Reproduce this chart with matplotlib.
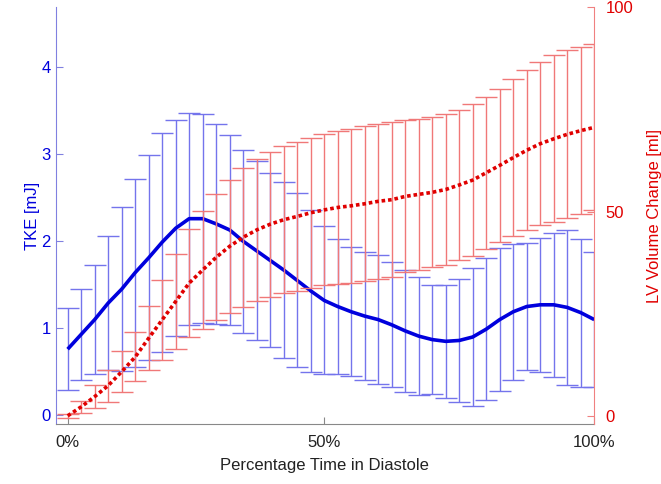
import matplotlib
matplotlib.use('Agg')
import matplotlib.pyplot as plt

plt.rcParams['font.family'] = ['Liberation Sans', 'DejaVu Sans']

# frame index across diastole (40 samples, 0% .. 100%)
frames = list(range(40))
xtick_pos = [0, 19, 39]
xtick_labels = ['0%', '50%', '100%']

tke_mean = [0.76, 0.93, 1.10, 1.29, 1.45, 1.64, 1.81, 1.99, 2.15, 2.26,
            2.26, 2.20, 2.13, 2.00, 1.89, 1.78, 1.67, 1.55, 1.43, 1.32,
            1.25, 1.19, 1.14, 1.10, 1.04, 0.97, 0.91, 0.87, 0.85, 0.86,
            0.90, 0.99, 1.10, 1.19, 1.25, 1.27, 1.27, 1.24, 1.18, 1.10]
tke_sd = [0.47, 0.52, 0.63, 0.77, 0.94, 1.08, 1.18, 1.26, 1.24, 1.22,
          1.20, 1.15, 1.09, 1.05, 1.03, 1.00, 1.01, 1.00, 0.93, 0.85,
          0.78, 0.74, 0.74, 0.74, 0.72, 0.70, 0.68, 0.63, 0.65, 0.71,
          0.79, 0.82, 0.82, 0.78, 0.73, 0.77, 0.83, 0.89, 0.85, 0.78]

vol_mean = [0.0, 2.2, 4.7, 7.4, 10.8, 14.4, 19.0, 23.5, 28.0, 32.5,
            35.7, 38.8, 41.5, 43.7, 45.5, 46.9, 48.0, 48.8, 49.7, 50.4,
            51.0, 51.4, 51.9, 52.5, 52.9, 53.7, 54.2, 54.7, 55.4, 56.5,
            57.7, 59.5, 61.3, 63.2, 65.0, 66.6, 67.8, 68.9, 69.8, 70.6]
vol_sd = [0.5, 1.45, 2.75, 3.9, 5.0, 6.0, 7.85, 9.85, 11.65, 13.2,
          14.55, 15.4, 16.3, 16.95, 17.35, 17.75, 17.95, 18.3, 18.4, 18.5,
          18.7, 18.9, 19.0, 19.0, 18.95, 18.6, 18.55, 18.35, 18.4, 18.3,
          18.5, 18.6, 18.75, 19.15, 19.6, 20.0, 20.4, 20.6, 20.5, 20.3]

blue = '#0000dd'
red = '#e00000'

fig = plt.figure(figsize=(6.61, 4.84), dpi=100)
ax = fig.add_axes([0.084, 0.124, 0.815, 0.861])
ax2 = ax.twinx()

ax.errorbar(frames, tke_mean, yerr=tke_sd, fmt='none', ecolor='#7474ec',
            elinewidth=1.0, capsize=8, capthick=1.0)
ax.plot(frames, tke_mean, color=blue, lw=2.6, solid_capstyle='butt')

ax2.errorbar(frames, vol_mean, yerr=vol_sd, fmt='none', ecolor='#f07878',
             elinewidth=1.0, capsize=8, capthick=1.0)
ax2.plot(frames, vol_mean, color=red, lw=2.6, linestyle=(0, (1, 0.8)))

ax.set_xlim(-0.9, 39)
ax.set_ylim(-0.1, 4.69)
ax2.set_ylim(-2.0, 100)
ax.set_xticks(xtick_pos)
ax.set_xticklabels(xtick_labels)
ax.set_yticks([0, 1, 2, 3, 4])
ax2.set_yticks([0, 50, 100])

for a in (ax, ax2):
    a.spines['top'].set_visible(False)
ax.spines['left'].set_color('#8080e0')
ax.spines['right'].set_visible(False)
ax2.spines['left'].set_visible(False)
ax2.spines['right'].set_color('#f08080')
ax.spines['bottom'].set_color('#888888')
ax2.spines['bottom'].set_visible(False)

ax.tick_params(axis='y', direction='in', colors=blue, labelsize=12, length=5, color='#8080e0')
ax.tick_params(axis='x', direction='in', labelsize=12, length=5, color='#888888', labelcolor='#222222', pad=8)
ax2.tick_params(axis='y', direction='in', colors=red, labelsize=12, length=5, color='#f08080', pad=8)

ax.set_xlabel('Percentage Time in Diastole', fontsize=12, color='#222222', labelpad=6)
ax.set_ylabel('TKE [mJ]', fontsize=12, color=blue, labelpad=1)
ax2.set_ylabel('LV Volume Change [ml]', fontsize=12, color=red, labelpad=10)

fig.savefig('out.png', dpi=100)
